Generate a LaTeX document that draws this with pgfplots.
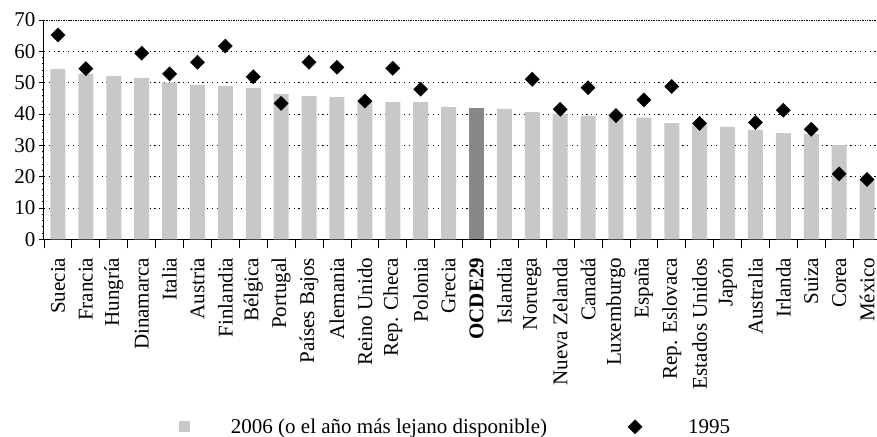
\documentclass[border=0pt]{standalone}
\usepackage{pgfplots}
\pgfplotsset{compat=1.18}
\usepackage{fontspec}
\setmainfont{Liberation Serif}
\definecolor{barg}{RGB}{200,200,200}
\definecolor{oecd}{RGB}{135,135,135}
\begin{document}
\begin{tikzpicture}
\path[use as bounding box] (-44pt,-196.7pt) rectangle (833pt,239.3pt);
\begin{axis}[
  at={(0pt,0pt)}, anchor=south west,
  scale only axis, width=837pt, height=219.3pt,
  xmin=-0.5, xmax=29.5, ymin=0, ymax=70,
  axis x line*=bottom, axis y line*=left,
  axis line style={line width=1pt, -},
  tick align=outside,
  xtick={0,...,29},
  xticklabels={Suecia, Francia, Hungría, Dinamarca, Italia, Austria, Finlandia, Bélgica, Portugal, Países Bajos, Alemania, Reino Unido, Rep. Checa, Polonia, Grecia, \textbf{OCDE29}, Islandia, Noruega, Nueva Zelanda, Canadá, Luxemburgo, España, Rep. Eslovaca, Estados Unidos, Japón, Australia, Irlanda, Suiza, Corea, México},
  x tick label style={rotate=90, anchor=east, font=\fontsize{21}{24}\selectfont},
  xticklabel shift=10pt,
  xtick style={draw=none},
  extra x ticks={-0.5,0.5,...,29.5},
  extra x tick labels={},
  extra x tick style={xtick style={draw=black, line width=0.8pt}, major tick length=9pt, grid=none},
  ytick={0,10,...,60},
  extra y ticks={70},
  extra y tick labels={70},
  extra y tick style={major grid style={black, line width=0.9pt, dash pattern=on 1pt off 0.7pt}},
  ytick style={draw=black, line width=0.8pt},
  major tick length=5pt,
  minor y tick num=4, minor tick length=2pt,
  y tick label style={font=\fontsize{21}{24}\selectfont},
  /pgf/number format/assume math mode=true,
  ymajorgrids,
  major grid style={black, line width=0.9pt, dash pattern=on 1.2pt off 3.6pt},
  legend style={at={(0.161,-0.855)}, anchor=west, draw=none, fill=none, inner sep=0pt,
    legend columns=2, font=\fontsize{21}{24}\selectfont,
    /tikz/every even column/.append style={column sep=78pt}},
  legend cell align=left,
]
\addplot[ybar, bar width=15pt, bar shift=0pt, fill=barg, draw=none,
  legend image code/.code={\fill[barg, draw=none] (0pt,-5.5pt) rectangle (11pt,5.5pt); \path[draw=none, fill=none] (0pt,0pt) -- (50pt,0pt);}]
  coordinates {(0,54.4) (1,52.8) (2,52.1) (3,51.5) (4,50.0) (5,49.3) (6,48.9) (7,48.3) (8,46.4) (9,45.7)
  (10,45.4) (11,43.9) (12,43.8) (13,43.8) (14,42.2) (16,41.6) (17,40.6) (18,40.0) (19,39.4)
  (20,38.9) (21,38.8) (22,37.1) (23,36.4) (24,35.9) (25,34.9) (26,33.9) (27,33.6) (28,30.1) (29,18.9)};
\addlegendentry{2006 (o el año más lejano disponible)}
\addplot[ybar, bar width=15pt, bar shift=0pt, fill=oecd, draw=none, forget plot]
  coordinates {(15,41.9)};
\addplot[only marks, mark=square*, mark size=5pt, mark options={rotate=45, fill=black, draw=black},
  legend image code/.code={\path[draw=none, fill=none] (0pt,0pt) -- (59pt,0pt); \draw plot[only marks] coordinates {(8pt,0pt)};}]
  coordinates {(0,65.2) (1,54.5) (3,59.4) (4,52.8) (5,56.5) (6,61.7) (7,51.9) (8,43.4) (9,56.5)
  (10,54.9) (11,44.1) (12,54.6) (13,47.9) (17,51.1) (18,41.5) (19,48.4) (20,39.5) (21,44.5)
  (22,48.8) (23,37.0) (25,37.3) (26,41.2) (27,35.1) (28,20.9) (29,19.1)};
\addlegendentry{1995}
\end{axis}
\end{tikzpicture}
\end{document}
